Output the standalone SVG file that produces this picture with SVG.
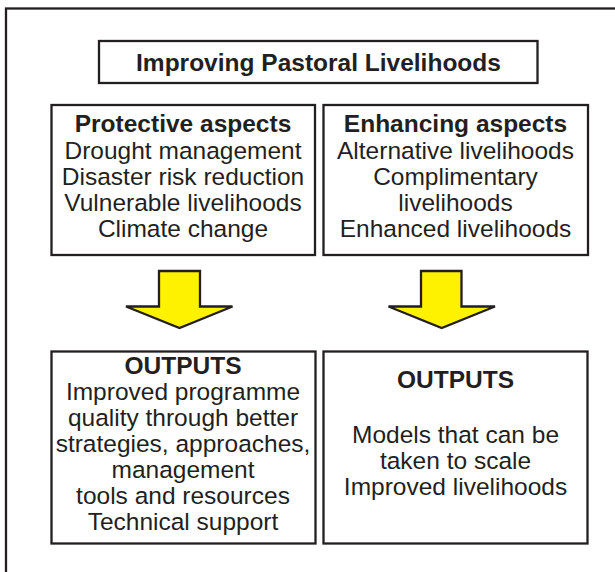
<svg xmlns="http://www.w3.org/2000/svg" width="615" height="572" viewBox="0 0 615 572">
  <style>
    .box { fill: #ffffff; stroke: #231f20; stroke-width: 2.3; }
    .frame { fill: none; stroke: #231f20; stroke-width: 2.3; }
    .arrow { fill: #fff200; stroke: #231f20; stroke-width: 2.3; stroke-linejoin: miter; }
    text { font-family: "Liberation Sans", Arial, Helvetica, sans-serif; font-size: 24.5px; fill: #231f20; text-anchor: middle; }
    .b { font-weight: bold; }
  </style>
  <rect width="615" height="572" fill="#ffffff"/>
  <rect class="frame" x="6" y="8.5" width="700" height="700"/>

  <g id="title">
    <rect class="box" x="99" y="41" width="438.5" height="42"/>
    <text class="b" x="318.5" y="70.5">Improving Pastoral Livelihoods</text>
  </g>

  <g id="protective">
    <rect class="box" x="51.5" y="105" width="263.5" height="150"/>
    <text class="b" x="183" y="132">Protective aspects</text>
    <text x="183" y="158.5">Drought management</text>
    <text x="183" y="184.5">Disaster risk reduction</text>
    <text x="183" y="210.5">Vulnerable livelihoods</text>
    <text x="183" y="236.5">Climate change</text>
  </g>

  <g id="enhancing">
    <rect class="box" x="323.5" y="105" width="264.5" height="150"/>
    <text class="b" x="455.5" y="132">Enhancing aspects</text>
    <text x="455.5" y="158.5">Alternative livelihoods</text>
    <text x="455.5" y="184.5">Complimentary</text>
    <text x="455.5" y="210.5">livelihoods</text>
    <text x="455.5" y="236.5">Enhanced livelihoods</text>
  </g>

  <g id="outputs-left">
    <rect class="box" x="51.5" y="351.5" width="264" height="192"/>
    <text class="b" x="183" y="374">OUTPUTS</text>
    <text x="183" y="400">Improved programme</text>
    <text x="183" y="426">quality through better</text>
    <text x="183" y="452">strategies, approaches,</text>
    <text x="183" y="478">management</text>
    <text x="183" y="504">tools and resources</text>
    <text x="183" y="530">Technical support</text>
  </g>

  <g id="outputs-right">
    <rect class="box" x="323.5" y="351.5" width="264" height="192"/>
    <text class="b" x="455.5" y="387.5">OUTPUTS</text>
    <text x="455.5" y="443">Models that can be</text>
    <text x="455.5" y="469">taken to scale</text>
    <text x="455.5" y="495">Improved livelihoods</text>
  </g>

  <g id="connectors">
    <polygon class="arrow" points="159,271 200,271 200,306.5 232.5,306.5 179.5,328 126,306.5 159,306.5"/>
    <polygon class="arrow" points="421,271 461.5,271 461.5,306.5 495,306.5 441.7,328 388.5,306.5 421,306.5"/>
  </g>
</svg>
